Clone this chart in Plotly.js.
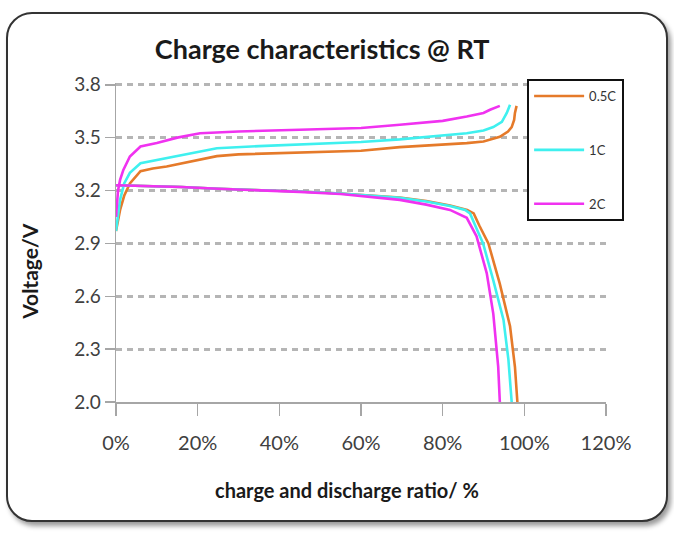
<!DOCTYPE html>
<html>
<head>
<meta charset="utf-8">
<script src="https://cdn.plot.ly/plotly-3.0.1.min.js"></script>
<style>
    body { margin: 0; background: #ffffff; }
    #frame {
        position: absolute;
        left: 6px; top: 12px;
        width: 658px; height: 506px;
        border: 2px solid #333333;
        border-radius: 26px;
        box-shadow: 3px 4px 5px #9a9a9a;
        background: #ffffff;
    }
    #chart { position: absolute; left: 0; top: 0; width: 674px; height: 536px; }
</style>
</head>
<body>
<div id="frame"></div>
<div id="chart"></div>
<script>
// charge curves (ratio as fraction, voltage in V)
var charge_05c_x = [0, 0.005, 0.01, 0.02, 0.034, 0.06, 0.09, 0.124, 0.189, 0.247, 0.30, 0.40, 0.50, 0.60, 0.695, 0.80, 0.859, 0.90, 0.94, 0.96, 0.969, 0.975, 0.977, 0.981];
var charge_05c_y = [2.97, 3.03, 3.09, 3.17, 3.24, 3.31, 3.325, 3.336, 3.365, 3.395, 3.405, 3.412, 3.418, 3.426, 3.446, 3.46, 3.469, 3.478, 3.505, 3.535, 3.56, 3.60, 3.64, 3.68];

var charge_1c_x = [0, 0.005, 0.01, 0.02, 0.034, 0.06, 0.124, 0.189, 0.247, 0.35, 0.45, 0.60, 0.695, 0.80, 0.859, 0.90, 0.924, 0.945, 0.957, 0.965];
var charge_1c_y = [2.97, 3.07, 3.147, 3.24, 3.30, 3.355, 3.384, 3.416, 3.44, 3.452, 3.46, 3.475, 3.49, 3.51, 3.525, 3.54, 3.56, 3.59, 3.64, 3.686];

var charge_2c_x = [0, 0.005, 0.01, 0.018, 0.034, 0.06, 0.10, 0.15, 0.206, 0.30, 0.45, 0.60, 0.695, 0.80, 0.859, 0.90, 0.916, 0.94];
var charge_2c_y = [3.05, 3.2, 3.26, 3.317, 3.393, 3.45, 3.47, 3.50, 3.525, 3.535, 3.545, 3.555, 3.573, 3.595, 3.62, 3.64, 3.658, 3.68];

// discharge curves
var discharge_05c_x = [0, 0.05, 0.10, 0.16, 0.25, 0.35, 0.45, 0.55, 0.695, 0.76, 0.818, 0.86, 0.876, 0.89, 0.912, 0.94, 0.965, 0.977, 0.983];
var discharge_05c_y = [3.23, 3.228, 3.225, 3.22, 3.21, 3.203, 3.194, 3.183, 3.16, 3.14, 3.115, 3.09, 3.07, 3.00, 2.90, 2.67, 2.43, 2.2, 2.0];

var discharge_1c_x = [0, 0.05, 0.10, 0.16, 0.25, 0.35, 0.45, 0.55, 0.695, 0.76, 0.818, 0.855, 0.867, 0.88, 0.899, 0.924, 0.949, 0.961, 0.969];
var discharge_1c_y = [3.23, 3.228, 3.225, 3.22, 3.21, 3.203, 3.194, 3.183, 3.158, 3.138, 3.112, 3.09, 3.07, 3.00, 2.90, 2.69, 2.466, 2.24, 2.0];

var discharge_2c_x = [0, 0.05, 0.10, 0.16, 0.25, 0.35, 0.45, 0.55, 0.695, 0.76, 0.818, 0.859, 0.883, 0.908, 0.924, 0.936, 0.94];
var discharge_2c_y = [3.23, 3.228, 3.225, 3.22, 3.21, 3.202, 3.192, 3.18, 3.147, 3.12, 3.09, 3.045, 2.94, 2.73, 2.50, 2.2, 2.0];

var rate_names = ['0.5C', '1C', '2C'];
var rate_colors = ['#e57a2a', '#3ff0ef', '#f032f0'];

var x_ticks = [0, 0.2, 0.4, 0.6, 0.8, 1.0, 1.2];
var y_ticks = [2.0, 2.3, 2.6, 2.9, 3.2, 3.5, 3.8];

var charge_x = [charge_05c_x, charge_1c_x, charge_2c_x];
var charge_y = [charge_05c_y, charge_1c_y, charge_2c_y];
var discharge_x = [discharge_05c_x, discharge_1c_x, discharge_2c_x];
var discharge_y = [discharge_05c_y, discharge_1c_y, discharge_2c_y];

var data = [];
for (var i = 0; i < rate_names.length; i++) {
    data.push({
        x: charge_x[i],
        y: charge_y[i],
        name: rate_names[i],
        legendgroup: rate_names[i],
        mode: 'lines',
        line: { color: rate_colors[i], width: 2.6 }
    });
    data.push({
        x: discharge_x[i],
        y: discharge_y[i],
        name: rate_names[i],
        legendgroup: rate_names[i],
        showlegend: false,
        mode: 'lines',
        line: { color: rate_colors[i], width: 2.6 }
    });
}

var font_family = 'Lato, "Open Sans", sans-serif';

var layout = {
    width: 674,
    height: 536,
    paper_bgcolor: 'rgba(0,0,0,0)',
    plot_bgcolor: '#ffffff',
    // top of range sits a little above 3.8 so plotly keeps that gridline
    margin: { l: 116, r: 68, t: 83, b: 134 },
    font: { family: font_family, color: '#404040' },
    title: {
        text: '<b>Charge characteristics @ RT</b>',
        font: { family: font_family, size: 27, color: '#1a1a1a' },
        x: 0.478,
        xanchor: 'center',
        xref: 'container',
        y: 0.907,
        yanchor: 'middle'
    },
    xaxis: {
        range: [0, 1.2],
        tickvals: x_ticks,
        tickformat: '.0%',
        showgrid: false,
        zeroline: false,
        showline: true,
        linecolor: '#a6a6a6',
        linewidth: 1.5,
        ticks: 'outside',
        ticklen: 12,
        tickcolor: '#a6a6a6',
        tickwidth: 1.5,
        ticklabelstandoff: 10,
        tickfont: { size: 20, color: '#404040' }
    },
    yaxis: {
        range: [2.0, 3.81],
        tickvals: y_ticks,
        tickformat: '.1f',
        showgrid: true,
        gridcolor: '#b5b5b5',
        gridwidth: 3,
        griddash: '6px,5px',
        zeroline: false,
        showline: true,
        linecolor: '#a6a6a6',
        linewidth: 1.5,
        ticks: 'outside',
        ticklen: 10,
        tickcolor: '#a6a6a6',
        tickwidth: 1.5,
        tickfont: { size: 19, color: '#404040' }
    },
    legend: {
        x: 0.839,
        y: 1.0125,
        xanchor: 'left',
        yanchor: 'top',
        bgcolor: '#ffffff',
        bordercolor: '#111111',
        borderwidth: 2,
        traceorder: 'grouped',
        tracegroupgap: 34,
        itemwidth: 50,
        font: { family: font_family, size: 13, color: '#333333' }
    },
    annotations: [
        {
            text: '<b>Voltage/V</b>',
            xref: 'paper', yref: 'paper',
            x: -0.1755, y: 0.408,
            xanchor: 'center', yanchor: 'middle',
            textangle: -90,
            showarrow: false,
            font: { family: font_family, size: 21, color: '#1a1a1a' }
        },
        {
            text: '<b>charge and discharge ratio/ %</b>',
            xref: 'paper', yref: 'paper',
            x: 0.471, y: -0.276,
            xanchor: 'center', yanchor: 'middle',
            showarrow: false,
            font: { family: font_family, size: 20, color: '#1a1a1a' }
        }
    ],
    showlegend: true
};

var config = { displayModeBar: false, staticPlot: true };

Plotly.newPlot('chart', data, layout, config);
</script>
</body>
</html>
